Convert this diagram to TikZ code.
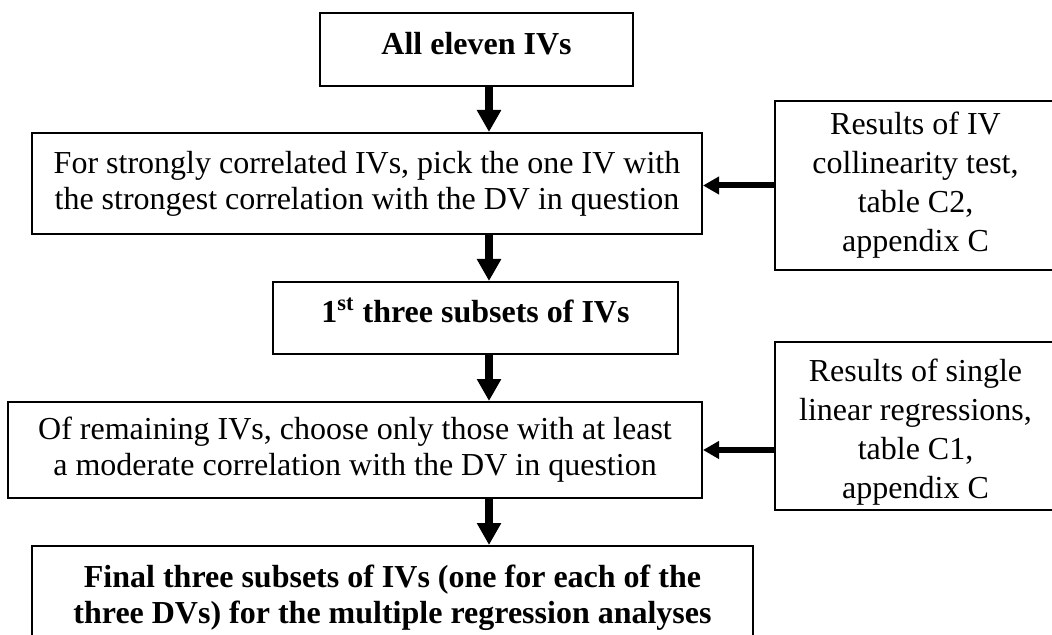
\documentclass[tikz,border=0pt]{standalone}
\usepackage{fontspec}
\setmainfont{Liberation Serif}
\usetikzlibrary{arrows.meta}

\begin{document}
\begin{tikzpicture}[x=0.5pt, y=-0.5pt, every node/.style={font=\fontsize{16}{18}\selectfont}]
      \tikzstyle{stepbox}=[draw, line width=1pt, align=center, inner sep=0pt]
      \tikzstyle{sourcebox}=[stepbox, font=\fontsize{16}{19.5}\selectfont, minimum width=140.5pt]
      \tikzstyle{mainarrow}=[-{Triangle[length=11pt, width=11.5pt]}, line width=4pt]
      \tikzstyle{sidearrow}=[-{Triangle[length=8pt, width=8.5pt]}, line width=3pt]
      \clip (0,0) rectangle (1052,635);
      \coordinate (spine) at (489,0);
      \node[stepbox, minimum width=156.5pt, minimum height=36.5pt, text height=11pt, text depth=5.5pt] (all) at (476.5,49.5) {\textbf{All eleven IVs}};
      \node[stepbox, minimum width=335pt, minimum height=50.5pt] (pick) at (367,183.5) {For strongly correlated IVs, pick the one IV with\\the strongest correlation with the DV in question};
      \node[stepbox, minimum width=202.5pt, minimum height=36pt, text height=11pt, text depth=6pt] (first) at (475.5,318) {\textbf{1\textsuperscript{st} three subsets of IVs}};
      \node[stepbox, minimum width=347pt, minimum height=48pt] (keep) at (355,450) {Of remaining IVs, choose only those with at least\\a moderate correlation with the DV in question};
      \node[stepbox, minimum width=360.5pt, minimum height=51.5pt] (final) at (392.5,597.5) {\textbf{Final three subsets of IVs (one for each of the}\\\textbf{three DVs) for the multiple regression analyses}};
      \node[sourcebox, minimum height=84.5pt] (coll) at (915.5,185.5) {Results of IV\\collinearity test,\\table C2,\\appendix C};
      \node[sourcebox, minimum height=84pt, text height=75.5pt, text depth=3.5pt] (slr) at (915.5,426) {Results of single\\linear regressions,\\table C1,\\appendix C};
      \draw[mainarrow] (all.south -| spine) -- (pick.north -| spine);
      \draw[mainarrow] (pick.south -| spine) -- (first.north -| spine);
      \draw[mainarrow] (first.south -| spine) -- (keep.north -| spine);
      \draw[mainarrow] (keep.south -| spine) -- (final.north -| spine);
      \draw[sidearrow] (coll.west) -- (coll.west -| pick.east);
      \draw[sidearrow] (keep.east -| slr.west) -- (keep.east);
    \end{tikzpicture}
\end{document}
